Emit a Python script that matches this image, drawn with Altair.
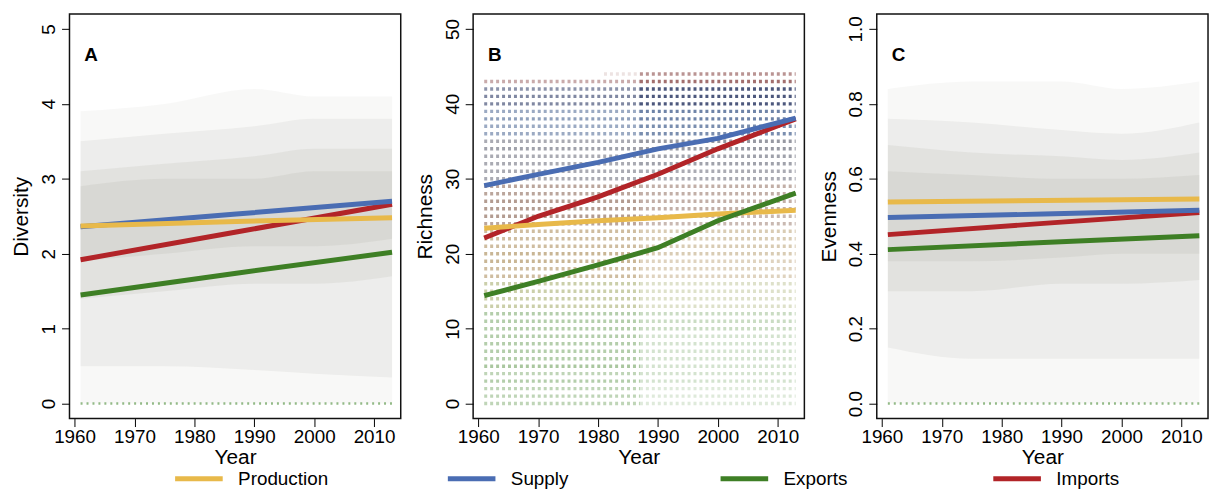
import altair as alt
import pandas as pd

# ---------------- data ----------------
SERIES = ["Production", "Supply", "Exports", "Imports"]
SERIES_COLORS = ["#E8B94A", "#4A6DB3", "#3E7F25", "#B22428"]
DRAW_ORDER = ["Imports", "Supply", "Production", "Exports"]

# Panel A (Diversity) trend lines
years_a = [1961, 1987, 2013]
div_production = [2.37, 2.43, 2.48]
div_supply = [2.36, 2.53, 2.70]
div_imports = [1.92, 2.29, 2.66]
div_exports = [1.45, 1.74, 2.02]

# Panel B (Richness) trend lines
years_b = [1961, 1970, 1980, 1990, 2000, 2013]
ric_production = [23.4, 23.9, 24.4, 24.8, 25.3, 25.8]
ric_supply = [29.1, 30.6, 32.2, 34.0, 35.4, 38.1]
ric_imports = [22.1, 25.0, 27.6, 30.6, 34.0, 38.0]
ric_exports = [14.4, 16.3, 18.5, 20.8, 24.4, 28.1]

# Panel C (Evenness) trend lines
years_c = [1961, 1987, 2013]
eve_production = [0.538, 0.542, 0.546]
eve_supply = [0.497, 0.506, 0.516]
eve_imports = [0.451, 0.481, 0.510]
eve_exports = [0.411, 0.430, 0.448]

# Point-cloud envelopes (estimated) for panels A and C
cloud_years = [1961, 1975, 1990, 2000, 2013]
div_outer_lo = [0.0, 0.0, 0.0, 0.0, 0.0]
div_outer_hi = [3.9, 4.0, 4.2, 4.1, 4.1]
div_mid_lo = [0.5, 0.5, 0.45, 0.4, 0.35]
div_mid_hi = [3.5, 3.6, 3.7, 3.8, 3.8]
div_core_lo = [1.4, 1.5, 1.6, 1.6, 1.7]
div_core_hi = [3.1, 3.2, 3.3, 3.4, 3.4]
div_dense_lo = [1.9, 2.0, 2.1, 2.1, 2.2]
div_dense_hi = [2.9, 3.0, 3.0, 3.1, 3.1]

eve_outer_lo = [0.0, 0.0, 0.0, 0.0, 0.0]
eve_outer_hi = [0.84, 0.86, 0.86, 0.84, 0.86]
eve_mid_lo = [0.15, 0.12, 0.12, 0.12, 0.12]
eve_mid_hi = [0.76, 0.75, 0.73, 0.72, 0.75]
eve_core_lo = [0.30, 0.30, 0.32, 0.32, 0.33]
eve_core_hi = [0.69, 0.67, 0.66, 0.65, 0.67]
eve_dense_lo = [0.38, 0.38, 0.39, 0.40, 0.40]
eve_dense_hi = [0.62, 0.61, 0.60, 0.60, 0.61]

# Zero-valued export observations (A and C)
zero_start = [1961]
zero_end = [2013]
zero_value = [0]

# Panel B: integer richness rows of points
row_levels = [44, 43, 42, 41, 40, 39, 38, 37, 36, 35, 34, 33, 32, 31, 30,
              29, 28, 27, 26, 25, 24, 23, 22, 21, 20, 19, 18, 17, 16, 15,
              14, 13, 12, 11, 10, 9, 8, 7, 6, 5, 4, 3, 2, 1, 0]
row_tone = ["red", "red", "navy", "navy", "navy", "blue", "blue", "blue", "blue",
            "grey", "grey", "grey", "grey", "grey", "grey",
            "brown", "brown", "brown", "brown", "brown", "brown",
            "tan", "tan", "tan", "tan", "tan", "tan", "tan",
            "olive", "olive", "olive", "olive",
            "green", "green", "green", "green", "green", "green", "green",
            "green", "green", "green", "green", "green", "green"]
row_start = [1981] + [1961] * 44
row_dens_early = [0.12, 0.35, 0.45, 0.5, 0.5, 0.45, 0.5, 0.45, 0.45,
                  0.45, 0.5, 0.45, 0.45, 0.45, 0.45,
                  0.45, 0.45, 0.5, 0.5, 0.5, 0.45,
                  0.45, 0.45, 0.45, 0.5, 0.5, 0.45, 0.45,
                  0.4, 0.4, 0.4, 0.4,
                  0.35, 0.35, 0.35, 0.35, 0.35, 0.35, 0.35, 0.4, 0.3, 0.35, 0.3, 0.3, 0.3]
row_dens_late = [0.45, 0.6, 0.7, 0.7, 0.7, 0.65, 0.65, 0.6, 0.6,
                 0.55, 0.55, 0.5, 0.5, 0.45, 0.45,
                 0.4, 0.4, 0.4, 0.4, 0.35, 0.35,
                 0.35, 0.35, 0.35, 0.35, 0.3, 0.3, 0.3,
                 0.25, 0.25, 0.25, 0.25,
                 0.25, 0.25, 0.25, 0.2, 0.2, 0.2, 0.2, 0.2, 0.2, 0.2, 0.15, 0.15, 0.15]
row_split_year = 1987
row_end_year = 2013

TONES = ["red", "navy", "blue", "grey", "brown", "tan", "olive", "green"]
TONE_COLORS = ["#84403f", "#34406a", "#4d6894", "#676a78", "#85604f", "#a98a55", "#97a055", "#55903f"]

x_ticks = [1960, 1970, 1980, 1990, 2000, 2010]

# ---------------- helpers ----------------
FONT = "Liberation Sans"
W, H = 334, 408
xscale = alt.Scale(domain=[1959.15, 2014.45], nice=False, zero=False)
xaxis = alt.Axis(values=x_ticks, format="d", title="Year", labelPadding=1, titlePadding=0)

legend = alt.Legend(title=None, orient="none", legendX=121, legendY=459,
                    direction="horizontal", columns=4,
                    symbolType="M-4,0H4", symbolSize=144, symbolStrokeWidth=5,
                    labelFontSize=19, labelOffset=30, columnPadding=110,
                    gridAlign="all", labelColor="black", labelFont=FONT)
color = dict(scale=alt.Scale(domain=SERIES, range=SERIES_COLORS), legend=legend)


def yaxis(title, values, fmt):
    return alt.Axis(values=values, format=fmt, title=title, labelAngle=-90,
                    labelAlign="center", labelBaseline="alphabetic",
                    labelPadding=7, titlePadding=8)


def trend_df(years, vals):
    rows = []
    for s in DRAW_ORDER:
        for y, v in zip(years, vals[s]):
            rows.append({"year": y, "value": v, "series": s})
    return pd.DataFrame(rows)


def lines(df, ys, ya):
    layers = []
    for s in DRAW_ORDER:
        layers.append(
            alt.Chart(df).transform_filter(alt.datum.series == s)
            .mark_line(strokeWidth=5, strokeCap="butt")
            .encode(x=alt.X("year:Q", scale=xscale, axis=xaxis),
                    y=alt.Y("value:Q", scale=ys, axis=ya),
                    color=alt.Color("series:N", **color))
        )
    return layers


def clouds(ys, ya, lo_hi, base="#a6a79c"):
    layers = []
    for (lo, hi), op in zip(lo_hi, [0.08, 0.12, 0.15, 0.16]):
        d = pd.DataFrame({"year": cloud_years, "lo": lo, "hi": hi})
        layers.append(
            alt.Chart(d).mark_area(color=base, opacity=op, interpolate="monotone")
            .encode(x=alt.X("year:Q", scale=xscale, axis=xaxis),
                    y=alt.Y("lo:Q", scale=ys, axis=ya), y2="hi:Q")
        )
    return layers


def zero_row(ys, ya):
    d = pd.DataFrame({"start": zero_start, "end": zero_end, "value": zero_value})
    return alt.Chart(d).mark_rule(color="#4f8f3a", opacity=0.6, strokeWidth=2.5,
                                  strokeDash=[2, 4]).encode(
        x=alt.X("start:Q", scale=xscale, axis=xaxis), x2="end:Q",
        y=alt.Y("value:Q", scale=ys, axis=ya))


def letter(t):
    return alt.Chart(pd.DataFrame({"panel": [t]})).mark_text(
        align="left", baseline="middle", fontWeight="bold", fontSize=19,
        font=FONT, color="black").encode(
        x=alt.value(15), y=alt.value(41), text="panel:N")


# ---------------- Panel A ----------------
ys_a = alt.Scale(domain=[-0.2, 5.2], nice=False, zero=False)
ya_a = yaxis("Diversity", [0, 1, 2, 3, 4, 5], "d")
df_a = trend_df(years_a, {"Production": div_production, "Supply": div_supply,
                          "Imports": div_imports, "Exports": div_exports})
pA = alt.layer(
    *clouds(ys_a, ya_a, [(div_outer_lo, div_outer_hi), (div_mid_lo, div_mid_hi),
                         (div_core_lo, div_core_hi), (div_dense_lo, div_dense_hi)]),
    zero_row(ys_a, ya_a),
    *lines(df_a, ys_a, ya_a),
    letter("A"),
).properties(width=W, height=H)

# ---------------- Panel B ----------------
ys_b = alt.Scale(domain=[-2, 52], nice=False, zero=False)
ya_b = yaxis("Richness", [0, 10, 20, 30, 40, 50], "d")
rrows = []
for lv, tn, st, de, dl in zip(row_levels, row_tone, row_start, row_dens_early, row_dens_late):
    rrows.append({"level": lv, "tone": tn, "start": st, "end": row_split_year, "dens": de})
    rrows.append({"level": lv, "tone": tn, "start": row_split_year, "end": row_end_year, "dens": dl})
df_rows = pd.DataFrame(rrows)
row_layer = alt.Chart(df_rows).mark_rule(strokeWidth=3.5, strokeDash=[3, 3]).encode(
    x=alt.X("start:Q", scale=xscale, axis=xaxis), x2="end:Q",
    y=alt.Y("level:Q", scale=ys_b, axis=ya_b),
    stroke=alt.Stroke("tone:N", scale=alt.Scale(domain=TONES, range=TONE_COLORS), legend=None),
    strokeOpacity=alt.StrokeOpacity("dens:Q", scale=alt.Scale(domain=[0, 0.8], range=[0, 1]), legend=None),
)
df_b = trend_df(years_b, {"Production": ric_production, "Supply": ric_supply,
                          "Imports": ric_imports, "Exports": ric_exports})
pB = alt.layer(row_layer, *lines(df_b, ys_b, ya_b), letter("B")).properties(width=W, height=H)

# ---------------- Panel C ----------------
ys_c = alt.Scale(domain=[-0.04, 1.04], nice=False, zero=False)
ya_c = yaxis("Evenness", [0, 0.2, 0.4, 0.6, 0.8, 1.0], ".1f")
df_c = trend_df(years_c, {"Production": eve_production, "Supply": eve_supply,
                          "Imports": eve_imports, "Exports": eve_exports})
pC = alt.layer(
    *clouds(ys_c, ya_c, [(eve_outer_lo, eve_outer_hi), (eve_mid_lo, eve_mid_hi),
                         (eve_core_lo, eve_core_hi), (eve_dense_lo, eve_dense_hi)]),
    zero_row(ys_c, ya_c),
    *lines(df_c, ys_c, ya_c),
    letter("C"),
).properties(width=W, height=H)

chart = alt.hconcat(pA, pB, pC, spacing=73, bounds="flush").properties(
    padding={"left": 2, "top": 3, "right": 0, "bottom": 0}
).configure(font=FONT).configure_view(
    stroke="#111111", strokeWidth=1.5
).configure_axis(
    grid=False, domain=False, tickColor="black", tickSize=8, tickWidth=1,
    labelColor="black", titleColor="black", labelFontSize=19, titleFontSize=21,
    titleFontWeight="normal", labelFont=FONT, titleFont=FONT,
    labelOverlap=False, labelFlush=False,
)

chart.save("out.html", embed_options={"renderer": "svg", "actions": False})
